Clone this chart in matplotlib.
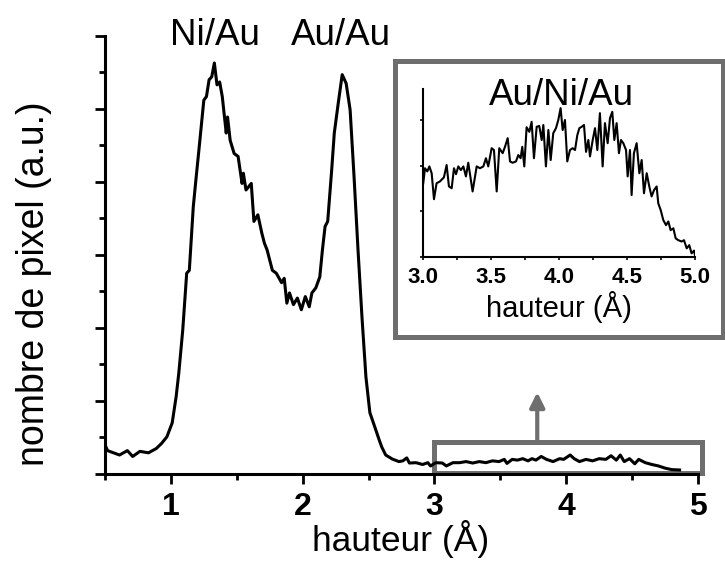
import matplotlib
matplotlib.use('Agg')
import matplotlib.pyplot as plt
import matplotlib.patches as patches

plt.rcParams['font.family'] = ['Liberation Sans', 'DejaVu Sans']

# main histogram (hauteur in Angstrom, counts in a.u.)
hauteur = [0.50, 0.52, 0.61, 0.67, 0.71, 0.765, 0.83, 0.89, 0.93, 0.97,
           1.01, 1.04, 1.06, 1.09, 1.12, 1.14, 1.17, 1.19, 1.22, 1.25,
           1.27, 1.29, 1.31, 1.33, 1.35, 1.37, 1.39, 1.42, 1.43, 1.45,
           1.48, 1.51, 1.54, 1.55, 1.57, 1.61, 1.63, 1.66, 1.69, 1.71,
           1.73, 1.77, 1.80, 1.84, 1.86, 1.88, 1.90, 1.93, 1.96, 1.99,
           2.02, 2.05, 2.07, 2.10, 2.13, 2.15, 2.17, 2.19, 2.22, 2.24,
           2.27, 2.30, 2.33, 2.36, 2.39, 2.42, 2.45, 2.48, 2.51, 2.55,
           2.58, 2.60, 2.63, 2.68, 2.73, 2.76, 2.79, 2.81, 2.86, 2.91,
           2.95, 2.97, 3.01, 3.06, 3.09, 3.14, 3.19, 3.24, 3.29, 3.34,
           3.39, 3.44, 3.49, 3.53, 3.55, 3.59, 3.63, 3.67, 3.71, 3.74,
           3.77, 3.81, 3.85, 3.90, 3.95, 3.98, 4.03, 4.06, 4.10, 4.15,
           4.20, 4.25, 4.30, 4.34, 4.38, 4.41, 4.44, 4.48, 4.52, 4.55,
           4.60, 4.65, 4.70, 4.75, 4.80, 4.86]
nombre = [0.40, 0.32, 0.26, 0.32, 0.24, 0.31, 0.29, 0.35, 0.42, 0.51,
          0.70, 1.06, 1.38, 1.97, 2.75, 2.79, 3.66, 4.03, 4.57, 5.12,
          5.17, 5.40, 5.44, 5.63, 5.33, 5.37, 5.17, 4.67, 4.89, 4.57,
          4.39, 4.35, 3.98, 4.12, 3.89, 3.98, 3.46, 3.55, 3.30, 3.16,
          3.07, 2.79, 2.75, 2.62, 2.68, 2.34, 2.48, 2.32, 2.41, 2.25,
          2.43, 2.29, 2.48, 2.55, 2.70, 3.07, 3.39, 3.46, 4.16, 4.67,
          5.08, 5.47, 5.35, 4.99, 4.07, 3.07, 2.15, 1.33, 0.84, 0.63,
          0.47, 0.37, 0.26, 0.205, 0.17, 0.18, 0.22, 0.15, 0.155, 0.13,
          0.155, 0.11, 0.155, 0.15, 0.11, 0.155, 0.155, 0.17, 0.15, 0.17,
          0.155, 0.18, 0.17, 0.20, 0.145, 0.20, 0.19, 0.21, 0.18, 0.21,
          0.19, 0.24, 0.20, 0.17, 0.21, 0.20, 0.26, 0.21, 0.17, 0.20,
          0.18, 0.21, 0.20, 0.25, 0.19, 0.26, 0.17, 0.21, 0.14, 0.20,
          0.155, 0.13, 0.11, 0.08, 0.06, 0.055]

# zoom on the Au/Ni/Au region
hauteur_zoom = [3.002, 3.015, 3.032, 3.047, 3.064, 3.081, 3.100, 3.125, 3.154, 3.174,
                3.191, 3.211, 3.228, 3.243, 3.260, 3.279, 3.297, 3.316, 3.333, 3.365,
                3.395, 3.419, 3.444, 3.463, 3.480, 3.505, 3.522, 3.542, 3.561, 3.586,
                3.603, 3.623, 3.640, 3.659, 3.684, 3.701, 3.718, 3.730, 3.745, 3.762,
                3.782, 3.799, 3.816, 3.836, 3.855, 3.873, 3.885, 3.904, 3.922, 3.939,
                3.958, 3.978, 3.995, 4.012, 4.027, 4.044, 4.061, 4.081, 4.100, 4.118,
                4.135, 4.150, 4.167, 4.184, 4.199, 4.216, 4.228, 4.248, 4.265, 4.282,
                4.301, 4.321, 4.338, 4.358, 4.375, 4.392, 4.407, 4.424, 4.441, 4.456,
                4.473, 4.493, 4.505, 4.522, 4.534, 4.551, 4.571, 4.591, 4.608, 4.625,
                4.645, 4.664, 4.681, 4.699, 4.718, 4.730, 4.748, 4.767, 4.787, 4.804,
                4.821, 4.841, 4.858, 4.877, 4.902, 4.919, 4.939, 4.958, 4.975, 4.993,
                5.000]
nombre_zoom = [1.62, 1.95, 1.88, 1.99, 1.84, 1.27, 1.62, 1.66, 1.75, 2.02,
               1.55, 1.51, 1.95, 1.82, 1.99, 1.91, 1.99, 1.77, 2.07, 1.44,
               1.99, 1.95, 1.99, 2.17, 1.99, 2.39, 2.35, 1.44, 2.39, 2.28,
               2.42, 2.61, 2.10, 2.07, 2.10, 2.24, 2.17, 2.42, 1.99, 2.85,
               2.75, 2.97, 2.17, 2.86, 2.88, 2.57, 2.90, 1.99, 2.79, 2.13,
               2.72, 2.83, 3.01, 3.27, 2.79, 3.01, 2.10, 2.35, 2.39, 2.35,
               2.68, 2.83, 2.86, 2.90, 2.31, 2.57, 2.21, 2.57, 2.83, 2.35,
               3.16, 1.99, 2.94, 2.50, 3.05, 3.19, 2.57, 2.94, 2.28, 2.57,
               2.50, 2.35, 1.77, 2.35, 1.36, 2.28, 2.50, 1.84, 2.13, 1.40,
               1.84, 1.55, 1.33, 1.47, 1.55, 1.18, 1.03, 0.81, 0.70, 0.78,
               0.59, 0.63, 0.41, 0.37, 0.34, 0.37, 0.19, 0.26, 0.08, 0.14,
               0.04]

gris = '#6e6e6e'

fig = plt.figure(figsize=(7.25, 5.62), dpi=100)
ax = fig.add_axes([0.1448, 0.1566, 0.818, 0.7794])

ax.plot(hauteur, nombre, color='black', lw=2.2)
ax.set_xlim(0.5, 5)
ax.set_ylim(0, 6)
ax.set_xticks([1, 2, 3, 4, 5])
ax.set_xticks([0.5, 1.5, 2.5, 3.5, 4.5], minor=True)
ax.set_yticks([0, 1, 2, 3, 4, 5, 6])
ax.set_yticks([0.5, 1.5, 2.5, 3.5, 4.5, 5.5], minor=True)
ax.set_yticklabels([])
ax.spines['top'].set_visible(False)
ax.spines['right'].set_visible(False)
ax.spines['left'].set_linewidth(2.2)
ax.spines['bottom'].set_linewidth(2.2)
ax.tick_params(which='major', length=7, width=2, pad=6)
ax.tick_params(which='minor', length=4.5, width=2)
for lab in ax.get_xticklabels():
    lab.set_fontsize(23)
    lab.set_fontweight('bold')
fig.text(0.553, 0.007, 'hauteur (Å)', ha='center', va='bottom', fontsize=25.5)
fig.text(0.047, 0.4955, 'nombre de pixel (a.u.)', rotation=90,
         ha='center', va='center', fontsize=27)

ax.text(1.337, 5.88, 'Ni/Au', fontsize=26.5, ha='center', va='baseline', clip_on=False)
ax.text(2.29, 5.88, 'Au/Au', fontsize=26.5, ha='center', va='baseline', clip_on=False)

# grey box around the zoomed region + arrow to the inset
ax.add_patch(patches.Rectangle((3.0, 0.01), 2.03, 0.43, fill=False,
                               edgecolor=gris, lw=3.6, clip_on=False))
ax.annotate('', xy=(3.78, 1.12), xytext=(3.78, 0.45),
            arrowprops=dict(arrowstyle='-|>', color=gris, lw=3,
                            mutation_scale=22, shrinkA=0, shrinkB=0))

# inset frame
fig.patches.append(patches.Rectangle((0.5455, 0.3995), 0.4511, 0.4928,
                                     transform=fig.transFigure, fill=False,
                                     edgecolor=gris, lw=3.6))

axin = fig.add_axes([0.5834, 0.5427, 0.3752, 0.2989])
axin.plot(hauteur_zoom, nombre_zoom, color='black', lw=1.5)
axin.set_xlim(3, 5)
axin.set_ylim(0, 3.69)
axin.set_xticks([3.0, 3.5, 4.0, 4.5, 5.0])
axin.set_xticklabels(['3.0', '3.5', '4.0', '4.5', '5.0'])
axin.set_xticks([3.25, 3.75, 4.25, 4.75], minor=True)
axin.set_yticks([0, 1, 2, 3])
axin.set_yticklabels([])
axin.spines['top'].set_visible(False)
axin.spines['right'].set_visible(False)
axin.spines['left'].set_linewidth(1.5)
axin.spines['bottom'].set_linewidth(1.5)
axin.tick_params(which='both', length=2.5, width=1.2, pad=5)
for lab in axin.get_xticklabels():
    lab.set_fontsize(16)
    lab.set_fontweight('bold')
axin.set_xlabel('hauteur (Å)', fontsize=21, labelpad=2)
axin.text(0.51, 0.905, 'Au/Ni/Au', transform=axin.transAxes, fontsize=26.5,
          ha='center', va='baseline')

fig.savefig('out.png', dpi=100)
